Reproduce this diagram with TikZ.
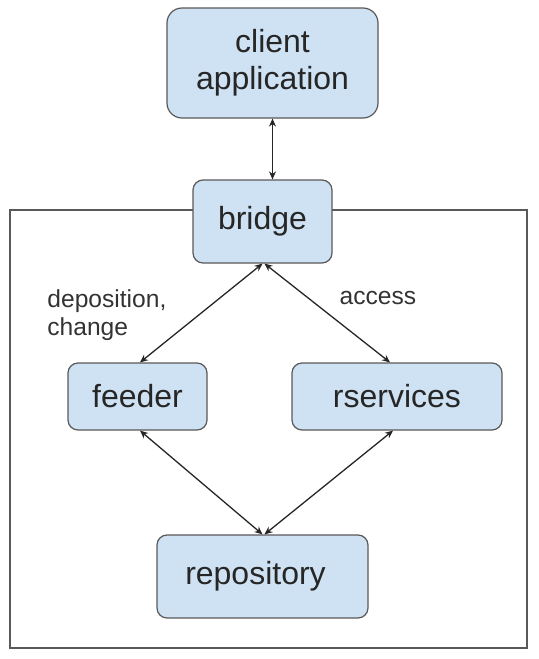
\documentclass[tikz,border=0pt]{standalone}
\usepackage{fontspec}
\setmainfont{Liberation Sans}
\usetikzlibrary{arrows.meta}
\definecolor{boxfill}{HTML}{CFE2F3}
\definecolor{boxdraw}{HTML}{595959}
\definecolor{lineblk}{HTML}{262626}
\begin{document}
\begin{tikzpicture}[x=0.5pt,y=-0.5pt,
  box/.style={draw=boxdraw, line width=0.6pt, fill=boxfill, rounded corners=5pt,
    inner sep=0pt, align=center, font=\fontsize{16pt}{18.5pt}\selectfont, text=black!85},
  link/.style={draw=lineblk, line width=0.65pt, {Stealth[length=4pt,width=3.5pt]}-{Stealth[length=4pt,width=3.5pt]}},
  lbl/.style={font=\fontsize{12.3pt}{14pt}\selectfont, text=black!80, align=left, inner sep=0pt}]
\useasboundingbox (0,0) rectangle (539,659);
\draw[draw=boxdraw, line width=1pt] (10,210) rectangle (527,648);
\node[box, rounded corners=7.5pt, minimum width=105.5pt, minimum height=55pt] (client) at (272.5,63) {client\\application};
\node[box, minimum width=69.5pt, minimum height=41.5pt] (bridge) at (262.5,221.5) {\raisebox{1.5pt}{bridge}};
\node[box, minimum width=69.5pt, minimum height=33.5pt] (feeder) at (137.5,396.5) {feeder};
\node[box, minimum width=105pt, minimum height=33.5pt] (rserv) at (397,396.5) {rservices};
\node[box, minimum width=105.5pt, minimum height=41.5pt] (repo) at (262.5,576.5) {\hspace*{-7pt}repository};
\node[lbl, anchor=north west] (lab1) at (47,289) {deposition,\\change};
\node[lbl] (lab2) at (378,298) {access};
\draw[link] (client.south) -- (client.south |- bridge.north);
\draw[link] (bridge.south) -- ([xshift=1.25pt]feeder.north);
\draw[link] ([xshift=1pt]bridge.south) -- ([xshift=-3.5pt]rserv.north);
\draw[link] ([xshift=1.25pt]feeder.south) -- (repo.north);
\draw[link] ([xshift=-2pt]rserv.south) -- ([xshift=1pt]repo.north);
\end{tikzpicture}
\end{document}
